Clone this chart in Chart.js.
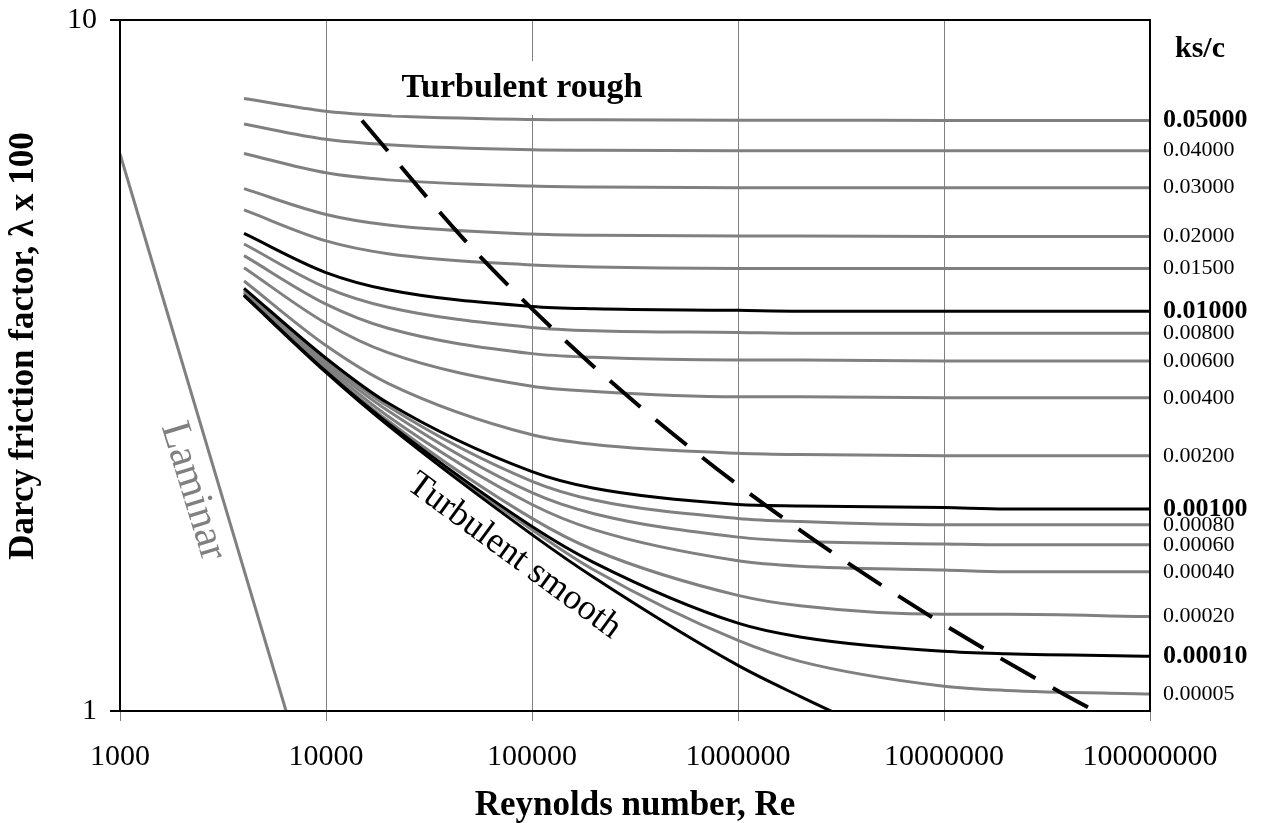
<!DOCTYPE html>
<html>
<head>
<meta charset="utf-8">
<script src="https://cdn.jsdelivr.net/npm/chart.js@4.4.1/dist/chart.umd.min.js"></script>
<style>
  html, body { margin: 0; padding: 0; background: #fff; }
  #wrap { width: 1265px; height: 823px; position: relative; }
</style>
</head>
<body>
<div id="wrap"><canvas id="moody"></canvas></div>
<script>
// Re values where the curves were read
const reNumbers = [4000, 10000, 20000, 100000, 200000, 1000000, 2000000, 10000000, 20000000, 100000000];
const reSmooth = [4000, 10000, 20000, 100000, 200000, 1000000, 2000000, 10000000];
const xTicks = [1000, 10000, 100000, 1000000, 10000000, 100000000];
const yTicks = [1, 10];

// friction factor x 100, one array per ks/c
const ks05000 = [7.70, 7.38, 7.27, 7.18, 7.17, 7.16, 7.16, 7.155, 7.155, 7.155];
const ks04000 = [7.07, 6.72, 6.60, 6.49, 6.48, 6.47, 6.47, 6.47, 6.47, 6.47];
const ks03000 = [6.41, 6.01, 5.87, 5.75, 5.73, 5.72, 5.72, 5.72, 5.72, 5.72];
const ks02000 = [5.70, 5.23, 5.05, 4.90, 4.88, 4.87, 4.87, 4.86, 4.86, 4.86];
const ks01500 = [5.31, 4.79, 4.59, 4.42, 4.39, 4.37, 4.37, 4.37, 4.37, 4.37];
const ks01000 = [4.91, 4.31, 4.07, 3.85, 3.82, 3.80, 3.79, 3.79, 3.79, 3.79];
const ks00800 = [4.74, 4.10, 3.84, 3.59, 3.55, 3.53, 3.52, 3.52, 3.52, 3.52];
const ks00600 = [4.56, 3.88, 3.58, 3.29, 3.25, 3.22, 3.22, 3.21, 3.21, 3.21];
const ks00400 = [4.38, 3.64, 3.30, 2.95, 2.90, 2.85, 2.85, 2.84, 2.84, 2.84];
const ks00200 = [4.19, 3.38, 2.98, 2.51, 2.43, 2.36, 2.35, 2.34, 2.34, 2.34];
const ks00100 = [4.09, 3.24, 2.79, 2.22, 2.10, 1.99, 1.98, 1.97, 1.96, 1.96];
const ks00080 = [4.07, 3.21, 2.76, 2.15, 2.02, 1.90, 1.88, 1.86, 1.86, 1.86];
const ks00060 = [4.05, 3.18, 2.72, 2.07, 1.93, 1.785, 1.76, 1.745, 1.74, 1.74];
const ks00040 = [4.03, 3.15, 2.67, 1.99, 1.83, 1.65, 1.62, 1.60, 1.59, 1.59];
const ks00020 = [4.01, 3.12, 2.63, 1.90, 1.71, 1.47, 1.42, 1.38, 1.38, 1.37];
const ks00010 = [4.00, 3.10, 2.61, 1.85, 1.64, 1.34, 1.28, 1.22, 1.21, 1.20];
const ks00005 = [4.00, 3.10, 2.60, 1.83, 1.60, 1.265, 1.18, 1.086, 1.071, 1.058];
const smoothPipe = [3.99, 3.09, 2.59, 1.80, 1.56, 1.164, 1.05, 0.84];

const roughLabels = ["0.05000", "0.04000", "0.03000", "0.02000", "0.01500", "0.01000", "0.00800", "0.00600",
  "0.00400", "0.00200", "0.00100", "0.00080", "0.00060", "0.00040", "0.00020", "0.00010", "0.00005"];
const boldLabels = ["0.05000", "0.01000", "0.00100", "0.00010"];
const blackCurves = ["0.01000", "0.00100", "0.00010"];

// laminar line and the rough / transition boundary (dashed)
const laminarRe = [1000, 6400];
const laminarLambda = [6.4, 1.0];
const boundaryRe = [14950, 45340, 102700, 229500, 653400, 1427000, 3095000, 8534000, 18270000, 38960000, 67880000, 105300000];
const boundaryLambda = [7.155, 4.864, 3.790, 3.037, 2.342, 1.964, 1.670, 1.373, 1.198, 1.054, 0.965, 0.901];

// notes inside the plot (position in Re / lambda)
const noteText = ["Turbulent rough", "Turbulent smooth", "Laminar"];
const noteRe = [89400, 81800, 2260];
const noteLambda = [7.97, 1.676, 2.08];

const serif = "'Liberation Serif', 'Times New Roman', serif";
const GRAY = "#808080";

let curveData = [ks05000, ks04000, ks03000, ks02000, ks01500, ks01000, ks00800, ks00600,
  ks00400, ks00200, ks00100, ks00080, ks00060, ks00040, ks00020, ks00010, ks00005];

function pts(xs, ys) {
  return ys.map((y, i) => ({ x: xs[i], y: y }));
}

let datasets = [];
datasets.push({
  label: "boundary",
  data: pts(boundaryRe, boundaryLambda),
  borderColor: "#000",
  borderWidth: 4,
  borderDash: [40, 20],
  order: 0,
});
for (let i = 0; i < curveData.length; i++) {
  let black = blackCurves.includes(roughLabels[i]);
  datasets.push({
    label: roughLabels[i],
    data: pts(reNumbers, curveData[i]),
    borderColor: black ? "#000" : GRAY,
    borderWidth: 3,
    order: black ? 1 : 2,
  });
}
datasets.push({
  label: "smooth",
  data: pts(reSmooth, smoothPipe),
  borderColor: "#000",
  borderWidth: 3,
  order: 1,
});
datasets.push({
  label: "laminar",
  data: pts(laminarRe, laminarLambda),
  borderColor: GRAY,
  borderWidth: 3,
  cubicInterpolationMode: "default",
  tension: 0,
  order: 3,
});

const decorations = {
  id: "decorations",
  afterDatasetsDraw(chart) {
    const { ctx, scales } = chart;
    ctx.save();
    // Turbulent rough, with a white box behind
    let x = scales.x.getPixelForValue(noteRe[0]);
    let y = scales.y.getPixelForValue(noteLambda[0]);
    ctx.font = "bold 34px " + serif;
    let w = ctx.measureText(noteText[0]).width;
    ctx.fillStyle = "#fff";
    ctx.fillRect(x - w / 2 - 10, y - 27, w + 20, 54);
    ctx.fillStyle = "#000";
    ctx.textAlign = "center";
    ctx.textBaseline = "middle";
    ctx.fillText(noteText[0], x, y);
    // Turbulent smooth
    ctx.save();
    ctx.translate(scales.x.getPixelForValue(noteRe[1]), scales.y.getPixelForValue(noteLambda[1]));
    ctx.rotate((36.3 * Math.PI) / 180);
    ctx.font = "36px " + serif;
    ctx.fillText(noteText[1], 0, 0);
    ctx.restore();
    // Laminar
    ctx.save();
    ctx.translate(scales.x.getPixelForValue(noteRe[2]), scales.y.getPixelForValue(noteLambda[2]));
    ctx.rotate((73 * Math.PI) / 180);
    ctx.font = "42px " + serif;
    ctx.fillStyle = GRAY;
    ctx.fillText(noteText[2], 0, 0);
    ctx.restore();
    ctx.restore();
  },
  afterDraw(chart) {
    const { ctx, chartArea, scales } = chart;
    ctx.save();
    // frame
    ctx.strokeStyle = "#000";
    ctx.lineWidth = 2;
    ctx.strokeRect(chartArea.left, chartArea.top, chartArea.right - chartArea.left, chartArea.bottom - chartArea.top);
    // y title (sits a bit above the middle in the original)
    ctx.save();
    ctx.translate(24, 346);
    ctx.rotate(-Math.PI / 2);
    ctx.font = "bold 35px " + serif;
    ctx.fillStyle = "#000";
    ctx.textAlign = "center";
    ctx.textBaseline = "middle";
    ctx.fillText("Darcy friction factor, λ x 100", 0, 0);
    ctx.restore();
    // ks/c labels at the right end of each curve
    ctx.textAlign = "left";
    ctx.textBaseline = "middle";
    ctx.fillStyle = "#000";
    for (let i = 0; i < roughLabels.length; i++) {
      let vals = curveData[i];
      let y = scales.y.getPixelForValue(vals[vals.length - 1]);
      let bold = boldLabels.includes(roughLabels[i]);
      ctx.font = bold ? "bold 26px " + serif : "22px " + serif;
      ctx.fillText(roughLabels[i], chartArea.right + 13, y);
    }
    ctx.font = "bold 30px " + serif;
    ctx.textAlign = "center";
    ctx.fillText("ks/c", chartArea.right + 50, chartArea.top + 29);
    ctx.restore();
  },
};

const ctx = document.getElementById("moody").getContext("2d");
const moodyChart = new Chart(ctx, {
  type: "scatter",
  data: { datasets: datasets },
  options: {
    responsive: true,
    maintainAspectRatio: false,
    animation: false,
    showLine: true,
    layout: { padding: { top: 20, right: 115, left: 0, bottom: 0 } },
    plugins: { legend: { display: false }, tooltip: { enabled: false } },
    elements: {
      point: { radius: 0 },
      line: { cubicInterpolationMode: "monotone", borderCapStyle: "butt", fill: false },
    },
    scales: {
      x: {
        type: "logarithmic",
        min: 1000,
        max: 100000000,
        afterBuildTicks: (s) => { s.ticks = xTicks.map((v) => ({ value: v })); },
        afterFit: (s) => { s.height = 112; s.paddingLeft = 0; s.paddingRight = 0; },
        grid: { color: GRAY, lineWidth: 1, tickLength: 10, tickColor: GRAY },
        border: { display: false },
        ticks: {
          font: { family: serif, size: 30 },
          color: "#000",
          padding: 18,
          maxRotation: 0,
          autoSkip: false,
          callback: (v) => String(v),
        },
        title: {
          display: true,
          text: "Reynolds number, Re",
          font: { family: serif, size: 35, weight: "bold", lineHeight: 1 },
          color: "#000",
          padding: 0,
        },
      },
      y: {
        type: "logarithmic",
        min: 1,
        max: 10,
        afterBuildTicks: (s) => { s.ticks = yTicks.map((v) => ({ value: v })); },
        afterFit: (s) => { s.width = 120; s.paddingTop = 0; s.paddingBottom = 0; },
        grid: { drawOnChartArea: false, tickLength: 10, tickColor: "#000", lineWidth: 2 },
        border: { display: false },
        ticks: {
          font: { family: serif, size: 30 },
          color: "#000",
          padding: 13,
          callback: (v) => String(v),
        },
      },
    },
  },
  plugins: [decorations],
});
</script>
</body>
</html>
